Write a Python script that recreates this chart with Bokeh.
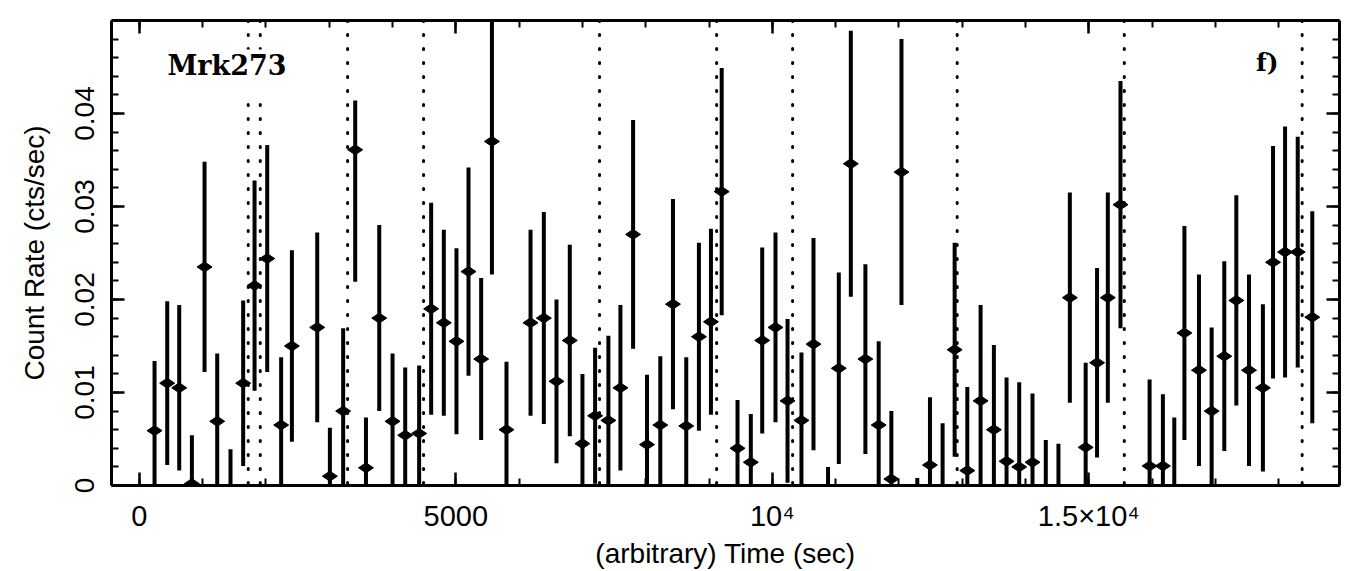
import math
from bokeh.plotting import figure
from bokeh.models import (Range1d, LinearAxis, FixedTicker, Label, Span, ColumnDataSource,
                          CustomLabelingPolicy)
from bokeh.embed import file_html
from bokeh.resources import INLINE

# Light curve of Mrk 273: bin centres (s), count rate and 1-sigma errors (cts/s)
time_s = [240, 440, 630, 830, 1030, 1230, 1440, 1640, 1820, 2020,
          2240, 2410, 2810, 3010, 3220, 3410, 3580, 3790, 4000, 4200,
          4420, 4610, 4810, 5010, 5200, 5400, 5570, 5800, 6180, 6390,
          6590, 6800, 7000, 7200, 7410, 7600, 7800, 8020, 8230, 8430,
          8640, 8840, 9030, 9200, 9450, 9660, 9840, 10050, 10240, 10460,
          10650, 10880, 11050, 11240, 11470, 11680, 11880, 12040, 12290, 12490,
          12690, 12880, 13080, 13290, 13500, 13700, 13900, 14110, 14320, 14520,
          14700, 14950, 15130, 15300, 15500, 15960, 16170, 16350, 16510, 16740,
          16940, 17140, 17330, 17530, 17750, 17910, 18100, 18300, 18530]

rate = [0.0059, 0.0110, 0.0105, 0.0002, 0.0235, 0.0069, -0.0030, 0.0110, 0.0215, 0.0244,
        0.0065, 0.0150, 0.0170, 0.0010, 0.0080, 0.0361, 0.0019, 0.0180, 0.0069, 0.0054,
        0.0056, 0.0190, 0.0175, 0.0155, 0.0230, 0.0136, 0.0370, 0.0060, 0.0175, 0.0180,
        0.0112, 0.0156, 0.0045, 0.0075, 0.0070, 0.0105, 0.0270, 0.0044, 0.0065, 0.0195,
        0.0064, 0.0160, 0.0176, 0.0316, 0.0040, 0.0025, 0.0156, 0.0170, 0.0091, 0.0070,
        0.0152, -0.0050, 0.0126, 0.0346, 0.0136, 0.0065, 0.0007, 0.0337, -0.0060, 0.0022,
        -0.0020, 0.0146, 0.0016, 0.0091, 0.0060, 0.0026, 0.0020, 0.0025, -0.0025, -0.0030,
        0.0202, 0.0041, 0.0132, 0.0202, 0.0302, 0.0021, 0.0021, -0.0015, 0.0164, 0.0124,
        0.0080, 0.0139, 0.0199, 0.0124, 0.0105, 0.0240, 0.0251, 0.0251, 0.0181]

err_down = [0.0075, 0.0088, 0.0089, 0.0052, 0.0113, 0.0073, 0.0069, 0.0089, 0.0113, 0.0122,
            0.0073, 0.0103, 0.0102, 0.0052, 0.0089, 0.0142, 0.0054, 0.0100, 0.0073, 0.0073,
            0.0073, 0.0114, 0.0100, 0.0100, 0.0112, 0.0087, 0.0143, 0.0073, 0.0100, 0.0114,
            0.0088, 0.0103, 0.0075, 0.0073, 0.0091, 0.0089, 0.0123, 0.0075, 0.0074, 0.0113,
            0.0074, 0.0101, 0.0100, 0.0133, 0.0052, 0.0052, 0.0100, 0.0102, 0.0088, 0.0073,
            0.0114, 0.0070, 0.0103, 0.0143, 0.0102, 0.0090, 0.0073, 0.0143, 0.0068, 0.0073,
            0.0087, 0.0115, 0.0090, 0.0103, 0.0091, 0.0090, 0.0091, 0.0074, 0.0074, 0.0075,
            0.0113, 0.0091, 0.0102, 0.0113, 0.0133, 0.0093, 0.0077, 0.0088, 0.0115, 0.0103,
            0.0090, 0.0102, 0.0113, 0.0103, 0.0090, 0.0125, 0.0135, 0.0124, 0.0114]

err_up = [0.0075, 0.0088, 0.0089, 0.0052, 0.0113, 0.0073, 0.0069, 0.0089, 0.0113, 0.0122,
          0.0073, 0.0103, 0.0102, 0.0052, 0.0089, 0.0053, 0.0054, 0.0100, 0.0073, 0.0073,
          0.0073, 0.0114, 0.0100, 0.0100, 0.0112, 0.0087, 0.0143, 0.0073, 0.0100, 0.0114,
          0.0088, 0.0103, 0.0075, 0.0073, 0.0091, 0.0089, 0.0123, 0.0075, 0.0074, 0.0113,
          0.0074, 0.0101, 0.0100, 0.0133, 0.0052, 0.0052, 0.0100, 0.0102, 0.0088, 0.0073,
          0.0114, 0.0070, 0.0103, 0.0143, 0.0102, 0.0090, 0.0073, 0.0143, 0.0068, 0.0073,
          0.0087, 0.0115, 0.0090, 0.0103, 0.0091, 0.0090, 0.0091, 0.0074, 0.0074, 0.0075,
          0.0113, 0.0091, 0.0102, 0.0113, 0.0133, 0.0093, 0.0077, 0.0088, 0.0115, 0.0103,
          0.0090, 0.0102, 0.0113, 0.0103, 0.0090, 0.0125, 0.0135, 0.0124, 0.0114]

# Times of the dotted vertical markers (s)
marker_times = [1720, 1910, 3290, 4490, 7270, 9120, 10320, 12920, 15560, 18370]

x_ticks = [0, 5000, 10000, 15000]
x_tick_labels = ["0", "5000", "10\u2074", "1.5\u00d710\u2074"]
y_ticks = [0, 0.01, 0.02, 0.03, 0.04]
y_tick_labels = ["0", "0.01", "0.02", "0.03", "0.04"]

source = ColumnDataSource(dict(
    t=time_s,
    r=rate,
    lo=[r - d for r, d in zip(rate, err_down)],
    hi=[r + u for r, u in zip(rate, err_up)],
))

p = figure(width=1354, height=571, output_backend="svg", toolbar_location=None,
           x_range=Range1d(-440, 18960), y_range=Range1d(0, 0.05),
           min_border_left=111, min_border_right=15,
           min_border_top=20, min_border_bottom=83,
           background_fill_color="white", border_fill_color="white")
p.grid.visible = False
p.outline_line_color = None

x_minor = list(range(0, 19000, 1000))
y_minor = [i * 0.002 for i in range(0, 26)]
label_font = "Liberation Sans"

# top and right frame axes carry ticks only
no_labels = CustomLabelingPolicy(code="""
for (const i of indices) { indices.unset(i) }
return indices
""")


def style_axis(ax, ticks, minor):
    ax.ticker = FixedTicker(ticks=ticks, minor_ticks=minor)
    ax.axis_line_color = "black"
    ax.axis_line_width = 3
    ax.major_tick_line_color = "black"
    ax.major_tick_line_width = 2.5
    ax.minor_tick_line_color = "black"
    ax.minor_tick_line_width = 2
    ax.major_tick_in = 13
    ax.major_tick_out = 0
    ax.minor_tick_in = 7
    ax.minor_tick_out = 0


xb = p.xaxis[0]
style_axis(xb, x_ticks, x_minor)
xb.major_label_overrides = dict(zip(x_ticks, x_tick_labels))
xb.major_label_text_font = label_font
xb.major_label_text_font_size = "29px"
xb.major_label_text_color = "black"
xb.major_label_standoff = 14
xb.axis_label = "(arbitrary) Time (sec)"
xb.axis_label_text_font = label_font
xb.axis_label_text_font_size = "28px"
xb.axis_label_text_font_style = "normal"
xb.axis_label_text_color = "black"
xb.axis_label_standoff = 3

yl = p.yaxis[0]
style_axis(yl, y_ticks, y_minor)
yl.major_label_overrides = dict(zip(y_ticks, y_tick_labels))
yl.major_label_orientation = "vertical"
yl.major_label_text_font = label_font
yl.major_label_text_font_size = "28px"
yl.major_label_text_color = "black"
yl.major_label_standoff = 18
yl.axis_label = "Count Rate (cts/sec)"
yl.axis_label_text_font = label_font
yl.axis_label_text_font_size = "28px"
yl.axis_label_text_font_style = "normal"
yl.axis_label_text_color = "black"
yl.axis_label_standoff = 22

top_axis = LinearAxis(major_label_policy=no_labels, major_label_text_font_size="0px",
                      major_label_standoff=0)
style_axis(top_axis, x_ticks, x_minor)
p.add_layout(top_axis, "above")

right_axis = LinearAxis(major_label_policy=no_labels, major_label_text_font_size="0px",
                        major_label_standoff=0)
style_axis(right_axis, y_ticks, y_minor)
p.add_layout(right_axis, "right")

# dotted vertical markers
for tm in marker_times:
    p.add_layout(Span(location=tm, dimension="height", line_color="black",
                      line_width=3, line_dash="1 13", line_cap="round"))

# error bars and points
p.segment("t", "lo", "t", "hi", source=source, line_color="black", line_width=4)
p.scatter("t", "r", source=source, marker="diamond", size=15, angle=math.pi / 2,
          fill_color="black", line_color="black")

p.add_layout(Label(x=380, y=0.0443, text="Mrk273", text_font="DejaVu Serif",
                   text_font_style="bold", text_font_size="27px", text_color="black",
                   text_baseline="alphabetic",
                   background_fill_color="white",
                   padding=dict(left=4, right=4, top=0, bottom=17)))
p.add_layout(Label(x=17640, y=0.0455, text="f)", text_font="DejaVu Serif",
                   text_font_style="bold", text_font_size="25px", text_color="black",
                   text_baseline="alphabetic"))

open("out.html", "w").write(file_html(p, INLINE))
